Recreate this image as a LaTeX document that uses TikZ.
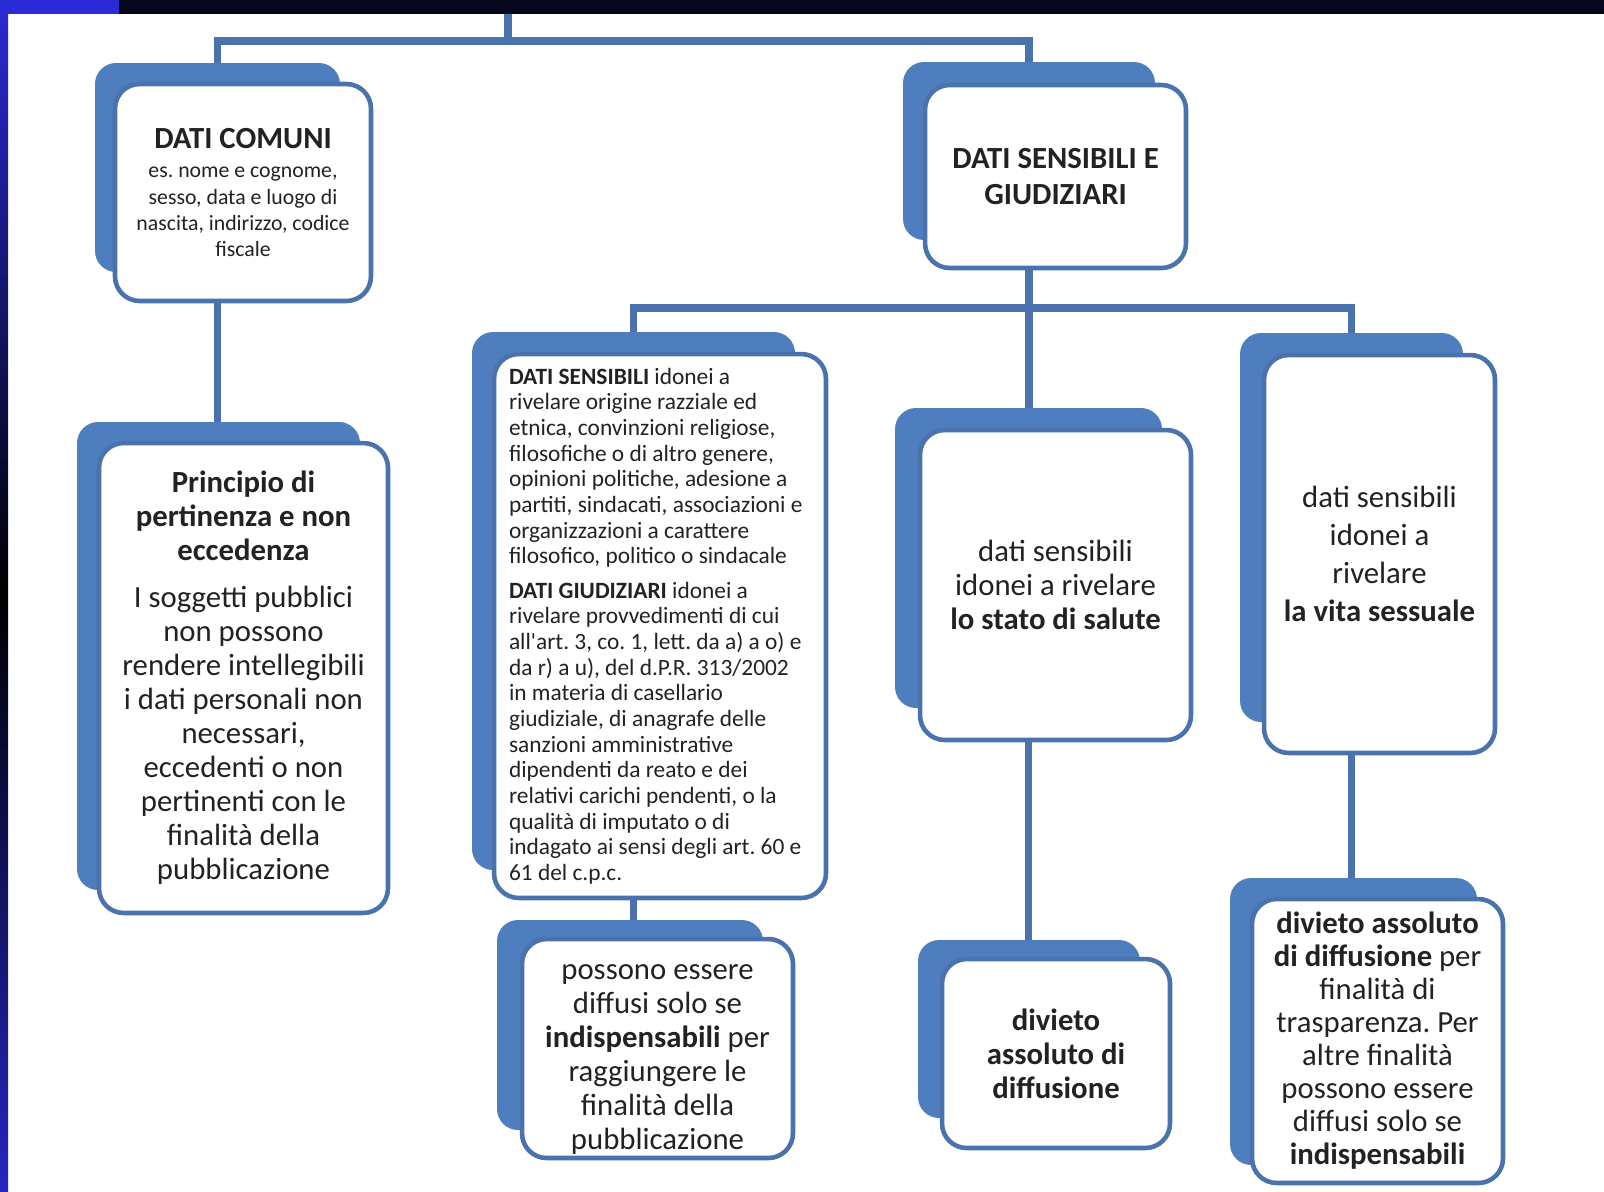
\documentclass[tikz,border=0pt]{standalone}
\usepackage{fontspec}
\setmainfont{Carlito}
\usepackage{xcolor}
\usetikzlibrary{fit,calc}
\frenchspacing

\definecolor{boxblue}{RGB}{79,126,190}
\definecolor{lineblue}{RGB}{74,114,172}
\definecolor{inkgray}{RGB}{34,34,34}
\definecolor{slideblue}{RGB}{42,42,214}
\definecolor{slidenavy}{RGB}{6,6,28}

\newcommand{\bigtext}{\fontsize{17.5}{19.4}\selectfont}
\newcommand{\smalltext}{\fontsize{12.4}{15}\selectfont}
\newcommand{\notetext}{\fontsize{13.3}{14.6}\selectfont}

\tikzset{
  shadowbox/.style={fill=boxblue, rounded corners=12pt, inner sep=0pt, outer sep=0pt},
  databox/.style={draw=lineblue, line width=2.6pt, fill=white, rounded corners=14pt,
    inner sep=0pt, outer sep=0pt, text=inkgray, align=flush center, font=\bigtext},
  link/.style={draw=lineblue, line width=4.5pt},
}

\begin{document}
\begin{tikzpicture}[x=0.02cm, y=-0.02cm]
\useasboundingbox (0,0) rectangle (1604,1191);
% Slide frame
\fill[white] (0,0) rectangle (1604,1191);
\shade[top color=slideblue, bottom color=slideblue!90!black, middle color=black] (0,0) rectangle (8,1191);
\fill[slidenavy] (119,0) rectangle (1604,14);
\fill[slideblue] (0,0) rectangle (119,14);

% Shadows
\node[shadowbox, fit={(95,63) (340,272)}] (s1) {};
\node[shadowbox, fit={(903,62) (1155,240)}] (s2) {};
\node[shadowbox, fit={(77,422) (360,890)}] (s3) {};
\node[shadowbox, fit={(472,332) (795,870)}] (s4) {};
\node[shadowbox, fit={(895,408) (1162,708)}] (s5) {};
\node[shadowbox, fit={(1240,333) (1463,722)}] (s6) {};
\node[shadowbox, fit={(497,920) (763,1130)}] (s7) {};
\node[shadowbox, fit={(918,940) (1140,1118)}] (s8) {};
\node[shadowbox, fit={(1230,878) (1477,1165)}] (s9) {};

% Connectors
\coordinate (top) at (508,14);
\coordinate (bus1) at (0,41);
\coordinate (bus2) at (0,308);
\draw[link] (top) -- (top |- bus1);
\draw[link] (s1.north) -- (s1.north |- bus1) -- (s2.north |- bus1) -- (s2.north);
\draw[link] (s1.south) -- (s1.south |- s3.north);
\draw[link] (s2.south) -- (s2.south |- s5.north);
\draw[link] (s4.north) -- (s4.north |- bus2) -- (s6.north |- bus2) -- (s6.north);
\draw[link] (s4.south) -- (s4.south |- s7.north);
\draw[link] (s5.south) -- (s5.south |- s8.north);
\draw[link] (s6.south) -- (s6.south |- s9.north);

% Boxes
\node[databox, minimum width=5.12cm, minimum height=4.34cm, text width=4.9cm, font=\smalltext] (n1) at (243,192.5)
  {{\bigtext\bfseries DATI COMUNI\par}\vspace{2pt}
  es. nome e cognome,\\ sesso, data e luogo di\\ nascita, indirizzo, codice\\ fiscale};
\node[databox, minimum width=5.22cm, minimum height=3.66cm, text width=5cm, font=\fontsize{17.5}{20}\selectfont\bfseries] (n2) at (1055.5,176.5)
  {DATI SENSIBILI E\\ GIUDIZIARI};
\node[databox, minimum width=5.78cm, minimum height=9.4cm, text width=5.5cm] (n3) at (243.5,678)
  {{\bfseries Principio di\\ pertinenza e non\\ eccedenza\par}\vspace{7pt}
  I soggetti pubblici\\ non possono\\ rendere intellegibili\\ i dati personali non\\ necessari,\\ eccedenti o non\\ pertinenti con le\\ finalità della\\ pubblicazione};
\node[databox, minimum width=6.64cm, minimum height=10.88cm, text width=6.04cm, align=flush left, font=\notetext] (n4) at (660,626)
  {\textbf{DATI SENSIBILI} idonei a\\ rivelare origine razziale ed\\ etnica, convinzioni religiose,\\ filosofiche o di altro genere,\\ opinioni politiche, adesione a\\ partiti, sindacati, associazioni e\\ organizzazioni a carattere\\ filosofico, politico o sindacale\par\vspace{5pt}
  \textbf{DATI GIUDIZIARI} idonei a\\ rivelare provvedimenti di cui\\ all\textquotesingle art. 3, co. 1, lett. da a) a o) e\\ da r) a u), del d.P.R. 313/2002\\ in materia di casellario\\ giudiziale, di anagrafe delle\\ sanzioni amministrative\\ dipendenti da reato e dei\\ relativi carichi pendenti, o la\\ qualità di imputato o di\\ indagato ai sensi degli art. 60 e\\ 61 del c.p.c.};
\node[databox, minimum width=5.42cm, minimum height=6.2cm, text width=5.2cm] (n5) at (1055.5,585)
  {dati sensibili\\ idonei a rivelare\\ \textbf{lo stato di salute}};
\node[databox, minimum width=4.62cm, minimum height=7.96cm, text width=4.4cm, font=\fontsize{17.5}{21.6}\selectfont] (n6) at (1379.5,554)
  {dati sensibili\\ idonei a\\ rivelare\\ \textbf{la vita sessuale}};
\node[databox, minimum width=5.42cm, minimum height=4.38cm, text width=5.2cm] (n7) at (657.5,1048.5)
  {\rule{0pt}{21pt}possono essere\\ diffusi solo se\\ \textbf{indispensabili} per\\ raggiungere le\\ finalità della\\ pubblicazione};
\node[databox, minimum width=4.56cm, minimum height=3.78cm, text width=4.3cm, font=\bigtext\bfseries] (n8) at (1056,1053.5)
  {divieto\\ assoluto di\\ diffusione};
\node[databox, minimum width=5.02cm, minimum height=5.68cm, text width=4.8cm, font=\fontsize{17.5}{18.8}\selectfont] (n9) at (1377.5,1041)
  {\textbf{divieto assoluto}\\ \textbf{di diffusione} per\\ finalità di\\ trasparenza. Per\\ altre finalità\\ possono essere\\ diffusi solo se\\ \textbf{indispensabili}};

\end{tikzpicture}
\end{document}
